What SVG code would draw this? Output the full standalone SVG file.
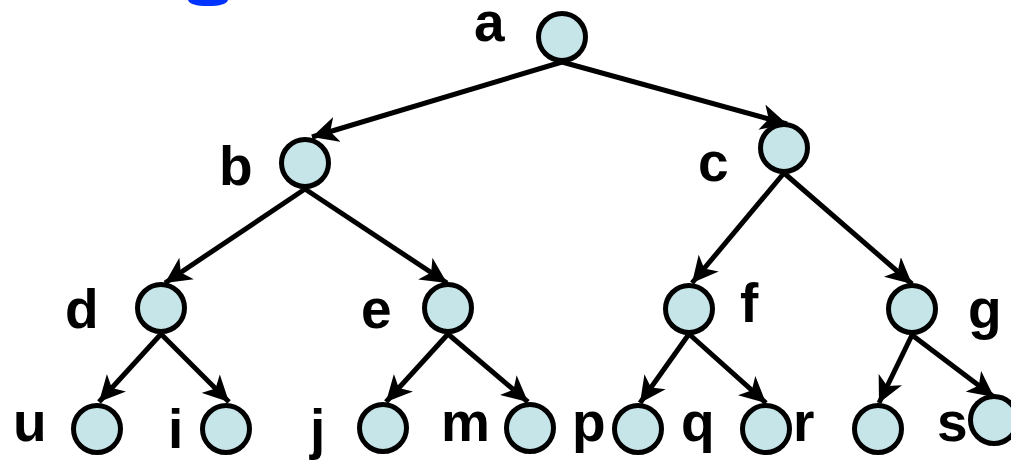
<svg xmlns="http://www.w3.org/2000/svg" width="1011" height="467" viewBox="0 0 1011 467">
  <style>
    .node circle { fill: #c5e5e9; stroke: #000; stroke-width: 5; }
    .lbl { font-family: "Liberation Sans", Arial, sans-serif; font-weight: bold; font-size: 55px; fill: #000; }
    .edges line { stroke: #000; stroke-width: 5; marker-end: url(#arrow); }
  </style>
  <defs>
    <marker id="arrow" markerUnits="userSpaceOnUse" markerWidth="28" markerHeight="26" refX="26" refY="13" orient="auto">
      <path d="M0,0 L26,13 L0,26 L7,13 Z" fill="#000"/>
    </marker>
  </defs>
  <rect width="1011" height="467" fill="#fff"/>
  <!-- blue fragment clipped at the top edge -->
  <path d="M188,0 Q190,6 208,6 Q226,6 228,0 Z" fill="#0033ff"/>

  <g class="edges">
    <line x1="562" y1="62" x2="312" y2="137"/>
    <line x1="562" y1="62" x2="787" y2="124"/>
    <line x1="305" y1="189" x2="165" y2="283"/>
    <line x1="305" y1="189" x2="447" y2="283"/>
    <line x1="784" y1="173" x2="692" y2="283"/>
    <line x1="784" y1="173" x2="912" y2="284"/>
    <line x1="161" y1="334" x2="99" y2="402"/>
    <line x1="161" y1="334" x2="229" y2="402"/>
    <line x1="448" y1="334" x2="386" y2="402"/>
    <line x1="448" y1="334" x2="528" y2="402"/>
    <line x1="689" y1="334" x2="640" y2="403"/>
    <line x1="689" y1="334" x2="766" y2="403"/>
    <line x1="912" y1="335" x2="879" y2="403"/>
    <line x1="912" y1="335" x2="994" y2="397"/>
  </g>

  <g id="node-a" class="node"><circle cx="562" cy="37" r="23.5"/><text class="lbl" x="474" y="41">a</text></g>
  <g id="node-b" class="node"><circle cx="305" cy="163" r="23.5"/><text class="lbl" x="219" y="185">b</text></g>
  <g id="node-c" class="node"><circle cx="784" cy="148" r="23.5"/><text class="lbl" x="698" y="181">c</text></g>
  <g id="node-d" class="node"><circle cx="161" cy="308" r="23.5"/><text class="lbl" x="65" y="328">d</text></g>
  <g id="node-e" class="node"><circle cx="448" cy="308" r="23.5"/><text class="lbl" x="361" y="328">e</text></g>
  <g id="node-f" class="node"><circle cx="689" cy="309" r="23.5"/><text class="lbl" x="740" y="322">f</text></g>
  <g id="node-g" class="node"><circle cx="912" cy="309" r="23.5"/><text class="lbl" x="968" y="328">g</text></g>
  <g id="node-u" class="node"><circle cx="97" cy="429" r="23.5"/><text class="lbl" x="13" y="441">u</text></g>
  <g id="node-i" class="node"><circle cx="226" cy="429" r="23.5"/><text class="lbl" x="168" y="448">i</text></g>
  <g id="node-j" class="node"><circle cx="383" cy="428" r="23.5"/><text class="lbl" x="310" y="448">j</text></g>
  <g id="node-m" class="node"><circle cx="530" cy="428" r="23.5"/><text class="lbl" x="441" y="441">m</text></g>
  <g id="node-p" class="node"><circle cx="638" cy="429" r="23.5"/><text class="lbl" x="572" y="441">p</text></g>
  <g id="node-r" class="node"><circle cx="766" cy="429" r="23.5"/><text class="lbl" x="681" y="441">q</text><text class="lbl" x="793" y="441">r</text></g>
  <g id="node-x" class="node"><circle cx="878" cy="429" r="23.5"/></g>
  <g id="node-s" class="node"><circle cx="994" cy="420" r="23.5"/><text class="lbl" x="937" y="441">s</text></g>
</svg>
